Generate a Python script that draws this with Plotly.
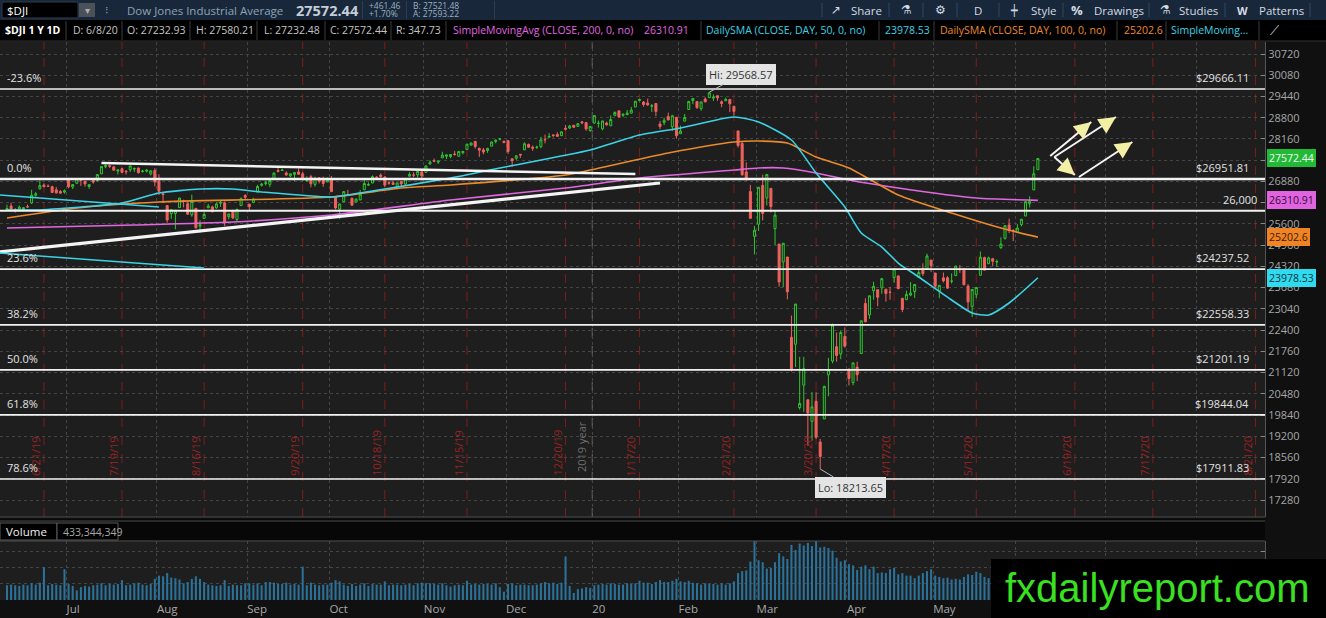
import pandas as pd
import plotly.graph_objects as go

W, H = 1326, 618
FONT = "Open Sans"

# ---------------- data ----------------
holidays = ["2019-07-04", "2019-09-02", "2019-11-28", "2019-12-25", "2020-01-01",
            "2020-01-20", "2020-02-17", "2020-04-10", "2020-05-25", "2020-07-03"]
first_day, last_day = "2019-06-10", "2020-06-08"

opens = [
    26019, 26139, 26037, 26038, 26034, 26115, 26231, 26465, 26658, 26769, 26737, 26722, 26628, 26579, 26557,
    26945, 26713, 26822, 26926, 26886, 26728, 26911, 26910, 27107, 27321, 27360, 27318, 27193, 27262, 27186, 27231, 27250, 27283, 27179, 27186, 27107, 27211,
    26891, 26509, 26152, 25908, 25915, 26093, 26297, 26208, 25873, 26069, 25532, 25766, 26086, 26113, 26080, 26222, 26232, 25818, 26008, 25733, 26152, 26455,
    26198, 26252, 26559, 26763, 26815, 26792, 26956, 27206, 27210, 27133, 27050, 27093, 27168, 27108, 26907, 27023, 26792, 26990, 26942, 26864,
    26963, 26426, 26047, 26267, 26480, 26376, 26261, 26325, 26629, 26766, 26832, 27003, 27071, 27013, 26844, 26842, 26734, 26878, 26800, 27040, 27071, 27076, 27169,
    27153, 27402, 27506, 27462, 27589, 27638, 27628, 27706, 27638, 27745, 27843, 27978, 28087, 27875, 27831, 27812, 27941, 28086, 28154, 28092,
    28109, 27564, 27577, 27698, 27833, 27993, 27913, 27910, 27928, 28148, 28212, 28282, 28291, 28264, 28483, 28491, 28573, 28539, 28676, 28654, 28415,
    28639, 28634, 28466, 28639, 28557, 28873, 29008, 28875, 28891, 28937, 29123, 29317, 29274, 29243, 29145, 29228, 28611, 28658, 28835, 28527, 28813,
    28320, 28696, 29048, 29316, 29287, 29073, 29363, 29406, 29390, 29463, 29280, 29309, 29347, 29146, 28403, 28025, 27168, 26574, 25226,
    25591, 26762, 26383, 26671, 25458, 24992, 24454, 24604, 22185, 21974, 20066, 20740, 20300, 19651, 20254, 19028, 19722, 21050, 21468, 21899, 21679, 22208,
    21227, 20819, 21285, 21693, 23203, 22857, 23587, 23617, 23674, 23634, 23544, 23983, 24034, 23359, 23315, 23456, 23563, 23990, 24257, 24243, 24512,
    24121, 23582, 23975, 23978, 23876, 24042, 24233, 24248, 23727, 23114, 23470, 24052, 24584, 24402, 24551, 24454, 24887, 25166, 25567, 25402,
    25343, 25580, 25838, 26211, 26624, 27232.93,
]
highs = [
    26182, 26238, 26073, 26153, 26112, 26183, 26630, 26560, 26907, 26823, 26792, 26752, 26710, 26619, 26640,
    26964, 26794, 26966, 26933, 26889, 26795, 26964, 27088, 27332, 27399, 27386, 27348, 27256, 27294, 27223, 27349, 27302, 27300, 27229, 27250, 27216, 27279,
    27095, 26545, 26152, 26031, 26028, 26391, 26329, 26256, 26481, 26069, 25708, 25957, 26207, 26149, 26244, 26317, 26278, 25908, 26022, 26061, 26399, 26498,
    26198, 26388, 26779, 26837, 26903, 26909, 27137, 27306, 27266, 27182, 27115, 27161, 27272, 27166, 27035, 27079, 27025, 27004, 27024, 26999,
    27046, 26426, 26206, 26579, 26625, 26376, 26371, 26623, 26956, 26853, 27061, 27039, 27122, 27038, 26887, 26908, 26844, 26883, 26973, 27158, 27157, 27199, 27189,
    27359, 27515, 27570, 27512, 27774, 27681, 27696, 27799, 27799, 27802, 28005, 28057, 28090, 27900, 27888, 27894, 28088, 28144, 28175, 28110,
    28110, 27564, 27677, 27698, 28057, 28023, 27962, 27957, 28225, 28291, 28337, 28291, 28365, 28377, 28582, 28582, 28573, 28621, 28701, 28654, 28547,
    28872, 28717, 28708, 28685, 28867, 28993, 29009, 28908, 29035, 29127, 29298, 29374, 29302, 29374, 29214, 29242, 28697, 28803, 28953, 28888, 28813,
    28561, 28914, 29308, 29380, 29287, 29277, 29416, 29568.57, 29502, 29463, 29324, 29408, 29371, 29146, 28403, 28076, 27458, 26778, 25540,
    26706, 27084, 27091, 26671, 25995, 24992, 25020, 24604, 22838, 23186, 21595, 21592, 20300, 20532, 20531, 19122, 20725, 21564, 22595, 22327, 22378, 22481,
    21227, 21414, 21447, 22680, 23360, 23434, 23857, 23617, 23975, 23634, 23701, 24262, 24034, 23359, 23589, 23849, 23790, 24254, 24414, 24705, 24512,
    24121, 23751, 24135, 24027, 24108, 24332, 24357, 24274, 23784, 23628, 23685, 24766, 24613, 24614, 24579, 24527, 25195, 25548, 25758, 25443,
    25593, 25743, 26290, 26432, 27338, 27580.21,
]
lows = [
    26000, 25989, 25941, 26026, 25978, 26087, 26202, 26418, 26636, 26719, 26715, 26532, 26510, 26523, 26512,
    26676, 26654, 26822, 26745, 26723, 26657, 26812, 26876, 27107, 27277, 27286, 27219, 27092, 27138, 27089, 27163, 27167, 27119, 27147, 27152, 27061, 26732,
    26469, 26250, 25638, 25752, 25439, 26089, 26097, 25869, 25818, 25467, 25339, 25766, 26081, 25958, 26064, 26113, 25534, 25738, 25745, 25683, 26152, 26312,
    25978, 26222, 26559, 26726, 26759, 26708, 26924, 27154, 27198, 27047, 27003, 26900, 27085, 26909, 26865, 26701, 26722, 26821, 26719, 26864,
    26566, 26033, 25744, 26254, 26454, 26152, 26258, 26312, 26629, 26743, 26832, 26941, 26990, 26709, 26780, 26782, 26696, 26741, 26768, 27024, 27010, 26998, 26917,
    27153, 27402, 27461, 27407, 27589, 27552, 27578, 27658, 27638, 27697, 27843, 27953, 27871, 27618, 27695, 27741, 27941, 28029, 28118, 28033,
    27710, 27325, 27529, 27590, 27833, 27905, 27802, 27858, 27881, 28028, 28212, 28209, 28227, 28242, 28416, 28460, 28491, 28539, 28608, 28410, 28377,
    28627, 28500, 28419, 28565, 28557, 28842, 28807, 28818, 28882, 28935, 29123, 29291, 29132, 29158, 28973, 28847, 28457, 28577, 28720, 28401, 28170,
    28320, 28696, 29048, 29208, 29069, 29009, 29271, 29406, 29305, 29310, 29118, 29309, 28969, 28866, 27901, 27052, 26902, 25767, 24681,
    25391, 25706, 26154, 25943, 24965, 23707, 23690, 23328, 21154, 21285, 20003, 19937, 18917, 19067, 19122, 18213.65, 19722, 20407, 21400, 21448, 21522, 21870,
    20736, 20736, 20863, 21693, 22635, 22741, 23317, 23118, 23495, 23258, 23316, 23830, 23632, 22941, 23315, 23422, 23368, 23990, 24032, 24243, 24154,
    23645, 23361, 23833, 23649, 23806, 24042, 24125, 23764, 22996, 22790, 23361, 24052, 24202, 24402, 24332, 24302, 24846, 25126, 25323, 25082,
    25343, 25530, 25838, 26096, 26624, 27232.48,
]
closes = [
    26062, 26049, 26005, 26107, 26090, 26113, 26466, 26504, 26753, 26719, 26728, 26548, 26537, 26527, 26600,
    26717, 26787, 26966, 26922, 26806, 26783, 26860, 27088, 27332, 27359, 27336, 27220, 27223, 27154, 27172, 27349, 27270, 27141, 27192, 27221, 27198, 26864,
    26583, 26485, 25718, 26030, 26007, 26378, 26287, 25896, 26280, 25479, 25579, 25886, 26136, 25962, 26203, 26252, 25629, 25899, 25778, 26036, 26362, 26403,
    26118, 26355, 26728, 26797, 26836, 26909, 27137, 27182, 27220, 27077, 27111, 27147, 27095, 26935, 26950, 26808, 26971, 26891, 26820, 26917,
    26573, 26079, 26201, 26574, 26478, 26164, 26346, 26497, 26817, 26787, 27025, 27002, 27026, 26770, 26828, 26788, 26834, 26806, 26958, 27091, 27071, 27187, 27046,
    27347, 27462, 27493, 27493, 27675, 27681, 27691, 27691, 27784, 27782, 28005, 28036, 27934, 27821, 27766, 27876, 28066, 28122, 28164, 28051,
    27783, 27503, 27650, 27678, 28015, 27910, 27882, 27911, 28132, 28135, 28236, 28267, 28239, 28377, 28455, 28552, 28515, 28621, 28645, 28462, 28538,
    28869, 28635, 28703, 28584, 28745, 28957, 28824, 28907, 28940, 29030, 29298, 29348, 29196, 29186, 29160, 28990, 28536, 28723, 28734, 28859, 28256,
    28400, 28808, 29291, 29380, 29103, 29277, 29276, 29551, 29423, 29398, 29232, 29348, 29220, 28992, 27961, 27081, 26958, 25767, 25409,
    26703, 25917, 27091, 26121, 25865, 23851, 25018, 23553, 21201, 23186, 20189, 21237, 19899, 20087, 19174, 18592, 20705, 21201, 22552, 21637, 22327, 21917,
    20944, 21413, 21053, 22680, 22654, 23434, 23719, 23391, 23950, 23504, 23538, 24242, 23650, 23019, 23476, 23515, 23775, 24134, 24102, 24634, 24346,
    23724, 23750, 23883, 23665, 23876, 24331, 24222, 23765, 23248, 23625, 23685, 24597, 24207, 24576, 24474, 24465, 24995, 25548, 25401, 25383,
    25475, 25743, 26270, 26282, 27111, 27572.44,
]
# volume in millions of shares
volumes = [
    230, 240, 230, 220, 240, 230, 260, 240, 270, 510, 230, 250, 240, 230, 480,
    250, 220, 150, 200, 220, 210, 230, 240, 260, 230, 250, 240, 250, 310, 230, 240, 260, 270, 240, 230, 250, 330,
    380, 370, 420, 350, 340, 320, 260, 280, 330, 370, 330, 280, 240, 230, 220, 230, 310, 220, 240, 230, 230, 260,
    260, 240, 260, 230, 280, 280, 270, 250, 250, 270, 240, 250, 240, 520, 230, 270, 240, 230, 240, 240,
    270, 310, 290, 240, 220, 250, 220, 240, 260, 220, 250, 240, 240, 290, 230, 240, 240, 230, 240, 250, 230, 260, 270,
    260, 260, 250, 240, 260, 230, 210, 230, 240, 230, 300, 240, 250, 240, 250, 250, 240, 260, 200, 130,
    250, 260, 230, 240, 240, 230, 230, 240, 260, 280, 260, 270, 250, 270, 680, 220, 110, 170, 180, 200, 190,
    230, 240, 250, 240, 260, 250, 240, 240, 260, 250, 260, 300, 270, 270, 250, 280, 310, 280, 280, 300, 330,
    290, 280, 300, 270, 260, 240, 260, 250, 250, 240, 260, 240, 260, 290, 420, 450, 460, 600, 970,
    620, 590, 490, 500, 590, 730, 680, 640, 860, 780, 880, 850, 890, 840, 950, 820, 830, 810, 770, 660, 600, 620,
    560, 540, 470, 520, 540, 480, 520, 420, 430, 420, 480, 500, 400, 420, 380, 380, 340, 380, 420, 450, 480,
    380, 360, 340, 350, 320, 330, 320, 360, 400, 390, 440, 420, 360, 340, 330, 330, 430, 440, 440, 470,
    370, 400, 430, 420, 480, 433.344349,
]

sma50_dates = ["2019-06-10", "2019-06-19", "2019-07-19", "2019-08-01", "2019-08-15", "2019-08-27",
               "2019-09-06", "2019-10-01", "2019-10-10", "2019-11-11", "2019-11-27", "2019-12-31",
               "2020-01-17", "2020-02-03", "2020-02-21", "2020-03-02", "2020-03-12", "2020-03-20",
               "2020-03-31", "2020-04-06", "2020-04-14", "2020-04-20", "2020-04-27", "2020-05-07",
               "2020-05-14", "2020-05-20", "2020-05-28", "2020-06-08"]
sma50_vals = [26019, 26019, 26230, 26531, 26652, 26652, 26562, 26411, 26531, 26983, 27285, 27827,
              28279, 28490, 28822, 28671, 28129, 27134, 26110, 25326, 24904, 24422, 24000, 23307,
              22915, 22855, 23217, 23978.53]
sma100_dates = ["2019-06-10", "2019-07-03", "2019-08-01", "2019-10-01", "2019-10-24", "2019-11-11",
                "2019-12-20", "2019-12-31", "2020-01-29", "2020-02-21", "2020-03-02", "2020-03-11",
                "2020-03-20", "2020-04-01", "2020-04-20", "2020-05-07", "2020-05-26", "2020-06-08"]
sma100_vals = [25778, 26079, 26260, 26411, 26682, 26772, 27074, 27224, 27737, 28068, 28098, 28038,
               27616, 27285, 26471, 25929, 25477, 25202.6]
sma200_dates = ["2019-06-10", "2019-07-24", "2019-08-27", "2019-10-01", "2019-11-11", "2019-12-20",
                "2020-01-17", "2020-02-21", "2020-03-02", "2020-03-10", "2020-03-20", "2020-04-01",
                "2020-04-20", "2020-05-15", "2020-06-08"]
sma200_vals = [25477, 25567, 25658, 25868, 26320, 26682, 26983, 27224, 27285, 27285, 27134, 26923,
               26682, 26380, 26310.91]

fib_labels = ["-23.6%", "0.0%", "23.6%", "38.2%", "50.0%", "61.8%", "78.6%"]
fib_prices = [29666.11, 26951.81, 24237.52, 22558.33, 21201.19, 19844.04, 17911.83]
round_level = 26000

expiry_dates = ["2019-06-21", "2019-07-19", "2019-08-16", "2019-09-20", "2019-10-18", "2019-11-15",
                "2019-12-20", "2020-01-17", "2020-02-21", "2020-03-20", "2020-04-17", "2020-05-15",
                "2020-06-19", "2020-07-17", "2020-08-21"]
month_dates = ["2019-07-01", "2019-08-01", "2019-09-03", "2019-10-01", "2019-11-01", "2019-12-02",
               "2020-01-02", "2020-02-03", "2020-03-02", "2020-04-01", "2020-05-01", "2020-06-01",
               "2020-07-01", "2020-08-03"]
month_labels = ["Jul", "Aug", "Sep", "Oct", "Nov", "Dec", "20", "Feb", "Mar", "Apr", "May", "Jun",
                "Jul", "Aug"]
price_ticks = list(range(17280, 30721, 640))

# hand drawn lines on the chart: (start date, start price, end date, end price)
white_trends = [("2019-07-12", 27435, "2020-01-16", 27104, 2.5),
                ("2019-06-06", 24753, "2020-01-27", 26833, 3.2)]
cyan_trends = [("2019-06-06", 26471, "2019-08-01", 26109),
               ("2019-06-06", 24723, "2019-08-16", 24271)]
arrows = [("2020-06-11", 27646, "2020-06-25", 28671),
          ("2020-06-12", 27616, "2020-07-06", 28822),
          ("2020-06-12", 27616, "2020-06-19", 27074),
          ("2020-06-22", 27014, "2020-07-10", 28068)]

# ---------------- calendar / positions ----------------
cal = [d.strftime("%Y-%m-%d") for d in pd.bdate_range("2019-06-03", "2020-09-04")]
cal = [d for d in cal if d not in holidays]
pos = {d: i for i, d in enumerate(cal)}
days = [d for d in cal if first_day <= d <= last_day]
xs = [pos[d] for d in days]

BG = "#1e1e1e"
GREEN, RED = "#2fc62f", "#f0625d"
CYAN, ORANGE, MAGENTA = "#3bd3e6", "#ea8a2c", "#e067e0"

X_RANGE = [3.3, 311.3]
Y_RANGE = [16768, 31082]
PANE_R, PANE_T, PANE_B = 1265, 42, 517
VOL_T, VOL_B = 541, 600


def px(x):
    return x / W


def py(y):
    return 1 - y / H


fig = go.Figure()
fig.add_trace(go.Candlestick(
    x=xs, open=opens, high=highs, low=lows, close=closes,
    increasing=dict(line=dict(color=GREEN, width=1), fillcolor=BG),
    decreasing=dict(line=dict(color=RED, width=1), fillcolor=RED),
    whiskerwidth=0, hoverinfo="skip", xaxis="x", yaxis="y"))
for d_list, v_list, col in [(sma200_dates, sma200_vals, MAGENTA),
                            (sma100_dates, sma100_vals, ORANGE),
                            (sma50_dates, sma50_vals, CYAN)]:
    fig.add_trace(go.Scatter(x=[pos[d] for d in d_list], y=v_list, mode="lines",
                             line=dict(color=col, width=1.6, shape="spline", smoothing=0.6),
                             hoverinfo="skip", xaxis="x", yaxis="y"))
fig.add_trace(go.Bar(x=xs, y=volumes, marker=dict(color="#2a7299", line=dict(width=0)),
                     width=0.5, hoverinfo="skip", xaxis="x2", yaxis="y2"))

shapes = []
ann = []


def rect(x0, y0, x1, y1, fill, line=None):
    shapes.append(dict(type="rect", xref="paper", yref="paper", x0=px(x0), x1=px(x1),
                       y0=py(y1), y1=py(y0), fillcolor=fill,
                       line=dict(color=line or fill, width=1 if line else 0), layer="above"))


def vline(x, y0, y1, color):
    shapes.append(dict(type="line", xref="paper", yref="paper", x0=px(x), x1=px(x),
                       y0=py(y0), y1=py(y1), line=dict(color=color, width=1), layer="above"))


def text(x, y, s, color="#c8c8c8", size=10, bold=False, xanchor="left", family=FONT):
    ann.append(dict(x=px(x), y=py(y), xref="paper", yref="paper", showarrow=False,
                    text="<b>%s</b>" % s if bold else s, xanchor=xanchor, yanchor="middle",
                    font=dict(family=family, size=size, color=color)))


# expiration lines and labels
for d in expiry_dates:
    x = pos[d]
    shapes.append(dict(type="line", xref="x", yref="y domain", x0=x, x1=x, y0=0, y1=1,
                       line=dict(color="#7e1d1d", width=1, dash="dash"), layer="below"))
    y, m, dd = d.split("-")
    ann.append(dict(x=x - 2.2, y=py(478), xref="x", yref="paper", showarrow=False,
                    text="%d/%d/%s" % (int(m), int(dd), y[2:]), textangle=-90,
                    font=dict(family=FONT, size=11, color="#9a2222")))
# year separator
yx = pos["2020-01-02"] - 0.5
shapes.append(dict(type="line", xref="x", yref="y domain", x0=yx, x1=yx, y0=0, y1=1,
                   line=dict(color="#6a6a6a", width=1, dash="dash"), layer="below"))
ann.append(dict(x=yx - 2.6, y=py(474), xref="x", yref="paper", showarrow=False,
                text="2019 year", textangle=-90, font=dict(family=FONT, size=11, color="#6e6e6e")))

# fibonacci levels
for lab, p in zip(fib_labels, fib_prices):
    w = 2.6 if lab == "0.0%" else 1.6
    shapes.append(dict(type="line", xref="x domain", yref="y", x0=0, x1=1, y0=p, y1=p,
                       line=dict(color="#f2f2f2", width=w), layer="above"))
    ann.append(dict(x=px(5), y=p, xref="paper", yref="y", showarrow=False, text=lab,
                    xanchor="left", yanchor="bottom", yshift=2,
                    font=dict(family=FONT, size=11, color="#e2e2e2")))
    ann.append(dict(x=px(1251), y=p, xref="paper", yref="y", showarrow=False,
                    text="$%.2f" % p, xanchor="right", yanchor="bottom", yshift=2,
                    font=dict(family=FONT, size=11, color="#e2e2e2")))
shapes.append(dict(type="line", xref="x domain", yref="y", x0=0, x1=1, y0=round_level,
                   y1=round_level, line=dict(color="#f2f2f2", width=2), layer="above"))
ann.append(dict(x=px(1259), y=round_level, xref="paper", yref="y", showarrow=False,
                text="{:,}".format(round_level), xanchor="right", yanchor="bottom", yshift=2,
                font=dict(family=FONT, size=11, color="#e2e2e2")))

# drawings
for d0, p0, d1, p1, w in white_trends:
    shapes.append(dict(type="line", xref="x", yref="y", x0=pos[d0], y0=p0, x1=pos[d1], y1=p1,
                       line=dict(color="#f4f4f4", width=w), layer="above"))
for d0, p0, d1, p1 in cyan_trends:
    shapes.append(dict(type="line", xref="x", yref="y", x0=pos[d0], y0=p0, x1=pos[d1], y1=p1,
                       line=dict(color=CYAN, width=1.5), layer="above"))
kx = PANE_R / (X_RANGE[1] - X_RANGE[0])
ky = (PANE_B - PANE_T) / (Y_RANGE[1] - Y_RANGE[0])
for d0, p0, d1, p1 in arrows:
    shapes.append(dict(type="line", xref="x", yref="y", x0=pos[d0], y0=p0, x1=pos[d1], y1=p1,
                       line=dict(color="#f4f4f4", width=2), layer="above"))
    dx = (pos[d1] - pos[d0]) * kx
    dy = -(p1 - p0) * ky
    n = (dx * dx + dy * dy) ** 0.5
    ann.append(dict(x=pos[d1], y=p1, xref="x", yref="y", text="", showarrow=True,
                    ax=-dx / n * 9, ay=-dy / n * 9, arrowhead=2, arrowsize=1.7,
                    arrowwidth=2, arrowcolor="#f3f0a6"))

# Hi / Lo callouts
ann.append(dict(x=pos["2020-02-12"], y=29568.57, xref="x", yref="y", text="Hi: 29568.57",
                showarrow=True, ax=32, ay=-18, arrowhead=0, arrowwidth=1, arrowcolor="#bdbdbd",
                bgcolor="#e4e4e4", bordercolor="#e4e4e4", borderpad=2,
                font=dict(family=FONT, size=11, color="#333333")))
ann.append(dict(x=pos["2020-03-23"], y=18213.65, xref="x", yref="y", text="Lo: 18213.65",
                showarrow=True, ax=30, ay=18, arrowhead=0, arrowwidth=1, arrowcolor="#bdbdbd",
                bgcolor="#e4e4e4", bordercolor="#e4e4e4", borderpad=2,
                font=dict(family=FONT, size=11, color="#333333")))

# price tags on the axis
for val, txt, bg, fg in [(closes[-1], "27572.44", "#22b936", "#f4fff4"),
                         (sma200_vals[-1], "26310.91", "#e064e0", "#3a083a"),
                         (sma100_vals[-1], "25202.6", "#f08424", "#3a1a00"),
                         (sma50_vals[-1], "23978.53", "#2fdcef", "#06323a")]:
    ann.append(dict(x=px(1267), y=val, xref="paper", yref="y", text=txt, showarrow=False,
                    xanchor="left", yanchor="middle", bgcolor=bg, bordercolor=bg, borderpad=1,
                    font=dict(family=FONT, size=10.5, color=fg)))

# pane borders / strips
shapes.append(dict(type="line", xref="paper", yref="paper", x0=0, x1=px(PANE_R), y0=py(517),
                   y1=py(517), line=dict(color="#4c4c4c", width=1), layer="above"))
rect(0, 519, PANE_R, 540, "#070707")
shapes.append(dict(type="line", xref="paper", yref="paper", x0=0, x1=px(PANE_R), y0=py(521),
                   y1=py(521), line=dict(color="#4c4c4c", width=1), layer="above"))
shapes.append(dict(type="line", xref="paper", yref="paper", x0=0, x1=px(PANE_R), y0=py(541),
                   y1=py(541), line=dict(color="#4c4c4c", width=1), layer="above"))
rect(0, 523, 57, 540, "#000000", "#5a5a5a")
rect(57, 523, 118, 540, "#000000", "#5a5a5a")
text(4, 531.5, "Volume", "#f0f0f0", 11.5)
text(61, 531.5, "433,344,349", "#a8a8a8", 10.5)

# header rows
rect(0, 0, W, 20, "#18283a")
rect(0, 20, W, 41, "#000000")
shapes.append(dict(type="line", xref="paper", yref="paper", x0=0, x1=1, y0=py(41), y1=py(41),
                   line=dict(color="#333333", width=1), layer="above"))
rect(2, 2, 78, 18, "#000000", "#2d3d4e")
rect(79, 3, 95, 17, "#4a5158")
text(5, 10, "$DJI", "#ffffff", 11.5)
text(87, 10, "▾", "#b0b0b0", 10, xanchor="center", family="DejaVu Sans")
text(103, 10, "⁝", "#8aa0b4", 11, family="DejaVu Sans")
text(125, 10, "Dow Jones Industrial Average", "#8ea3b7", 11.5)
text(294, 10, "27572.44", "#c4ced8", 14.5, bold=True)
text(367, 5.5, "+461.46", "#9db0c2", 8.5)
text(367, 14, "+1.70%", "#9db0c2", 8.5)
text(411, 5.5, "B: 27521.48", "#9db0c2", 8.5)
text(411, 14, "A: 27593.22", "#9db0c2", 8.5)
rect(362, 1, 363, 19, "#2c3e50")
rect(406, 1, 407, 19, "#2c3e50")
rect(494, 1, 495, 19, "#2c3e50")
TB = "#d3dbe3"
text(829, 10, "↗", TB, 12, family="DejaVu Sans")
text(849, 10, "Share", TB, 11.5)
text(899, 10, "⚗", TB, 12, family="DejaVu Sans")
text(933, 10, "⚙", TB, 12, family="DejaVu Sans")
text(972, 10, "D", TB, 11.5)
text(1008, 10, "┿", TB, 11, family="DejaVu Sans")
text(1029, 10, "Style", TB, 11.5)
text(1069, 10, "%", TB, 13, bold=True)
text(1092, 10, "Drawings", TB, 11.5)
text(1158, 10, "⚗", TB, 12, family="DejaVu Sans")
text(1177, 10, "Studies", TB, 11.5)
text(1235, 10, "W", TB, 11, bold=True)
text(1257, 10, "Patterns", TB, 11.5)
for sx in [822, 889, 923, 957, 999, 1063, 1149, 1225, 1310]:
    vline(sx, 3, 17, "#33475b")

text(3, 30.5, "$DJI 1 Y 1D", "#ffffff", 10.5, bold=True)
for x, s in [(71, "D: 6/8/20"), (125, "O: 27232.93"), (194, "H: 27580.21"), (262, "L: 27232.48"),
             (328, "C: 27572.44"), (394, "R: 347.73")]:
    text(x, 30.5, s, "#c4c4c4", 10.5)
text(451, 30.5, "SimpleMovingAvg (CLOSE, 200, 0, no)", MAGENTA, 10.5)
text(642, 30.5, "26310.91", MAGENTA, 10.5)
text(704, 30.5, "DailySMA (CLOSE, DAY, 50, 0, no)", CYAN, 10.5)
text(883, 30.5, "23978.53", CYAN, 10.5)
text(938, 30.5, "DailySMA (CLOSE, DAY, 100, 0, no)", ORANGE, 10.5)
text(1122, 30.5, "25202.6", ORANGE, 10.5)
text(1169, 30.5, "SimpleMoving...", CYAN, 10.5)
text(1268, 30.5, "⟋", "#d0d0d0", 13, family="DejaVu Sans")
for sx in [66, 122, 190, 257, 325, 391, 446, 701, 879, 934, 1117, 1166, 1259]:
    vline(sx, 21, 40, "#3c3c3c")

# watermark
rect(991, 559, W, H, "#000000")
text(1157, 588, "fxdailyreport.com", "#3ae021", 40, xanchor="center", family="Liberation Sans")

month_x = [pos[d] - 0.5 for d in month_dates]
grid = dict(showgrid=True, gridcolor="#454545", griddash="dot", gridwidth=1, zeroline=False)
fig.update_layout(
    width=W, height=H, margin=dict(l=0, r=0, t=0, b=0),
    paper_bgcolor="#101010", plot_bgcolor=BG, showlegend=False, hovermode=False,
    font=dict(family=FONT, color="#a8a8a8"),
    xaxis=dict(domain=[0, px(PANE_R)], range=X_RANGE, anchor="y", tickvals=month_x,
               showticklabels=False, ticks="", rangeslider=dict(visible=False), **grid),
    xaxis2=dict(domain=[0, px(PANE_R)], range=X_RANGE, anchor="y2", matches="x",
                tickvals=month_x, ticktext=month_labels, ticks="", ticklabelposition="outside right",
                tickfont=dict(family=FONT, size=11.5, color="#a8a8a8"), **grid),
    yaxis=dict(domain=[py(PANE_B), py(PANE_T)], range=Y_RANGE, side="right", anchor="x",
               tickvals=price_ticks, tickformat="d", ticks="inside", ticklen=4, tickcolor="#8a8a8a",
               showline=True, linecolor="#555555", automargin=False,
               tickfont=dict(family=FONT, size=11, color="#a6a6a6"), **grid),
    yaxis2=dict(domain=[py(VOL_B), py(VOL_T)], range=[0, 920], side="right", anchor="x2",
                tickvals=[250, 500, 750], showticklabels=False, ticks="inside", ticklen=4,
                tickcolor="#8a8a8a", showline=True, linecolor="#555555", automargin=False, **grid),
    shapes=shapes, annotations=ann,
)

fig.write_html("out.html", config={"displayModeBar": False},
               post_script="document.body.style.margin='0';document.body.style.overflow='hidden';")
